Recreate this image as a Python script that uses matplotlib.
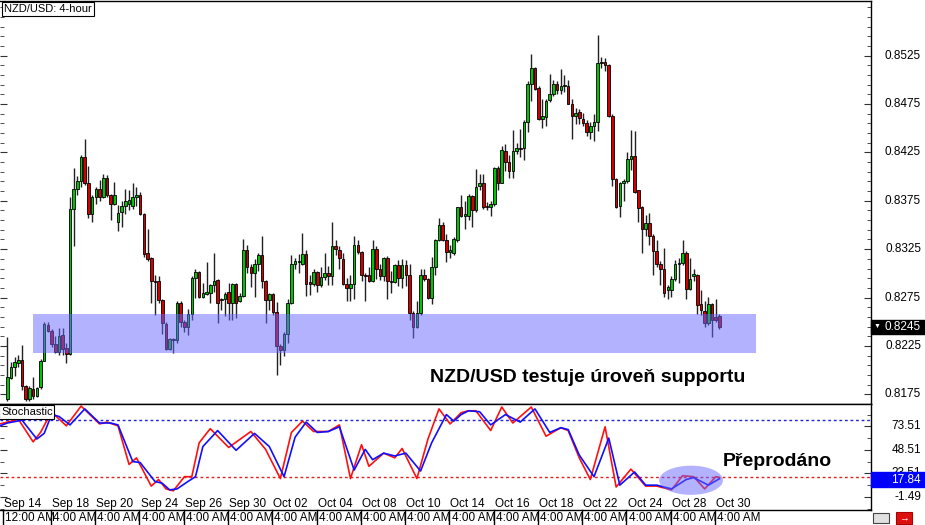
import numpy as np
import matplotlib
matplotlib.use('Agg')
import matplotlib.pyplot as plt
import matplotlib.transforms as mtrans
from matplotlib.patches import Rectangle, Ellipse
from matplotlib.lines import Line2D

plt.rcParams['font.family'] = ['Liberation Sans', 'DejaVu Sans']

# NZD/USD 4-hour candles, prices in pips (8245 -> 0.8245)
opens = [8170, 8192, 8203, 8207, 8210, 8184, 8170, 8181, 8173, 8183,
         8209, 8247, 8240, 8227, 8219, 8236, 8223, 8217, 8367, 8387,
         8395, 8420, 8393, 8361, 8379, 8387, 8379, 8399, 8381, 8372,
         8353, 8363, 8370, 8372, 8370, 8379, 8381, 8361, 8321, 8316,
         8292, 8292, 8272, 8248, 8222, 8231, 8231, 8269, 8250, 8245,
         8258, 8295, 8301, 8276, 8279, 8280, 8288, 8293, 8272, 8273,
         8281, 8269, 8289, 8271, 8277, 8324, 8307, 8300, 8310, 8319,
         8292, 8272, 8279, 8260, 8225, 8221, 8237, 8269, 8310, 8312,
         8310, 8320, 8291, 8289, 8301, 8288, 8296, 8300, 8297, 8328,
         8324, 8315, 8289, 8285, 8289, 8329, 8322, 8298, 8298, 8292,
         8325, 8304, 8297, 8316, 8292, 8291, 8309, 8295, 8309, 8298,
         8259, 8245, 8259, 8298, 8294, 8275, 8307, 8334, 8350, 8334,
         8322, 8321, 8334, 8369, 8359, 8359, 8380, 8365, 8390, 8393,
         8370, 8369, 8372, 8409, 8393, 8426, 8415, 8406, 8426, 8430,
         8430, 8456, 8496, 8512, 8492, 8460, 8462, 8479, 8485, 8496,
         8490, 8494, 8494, 8475, 8463, 8467, 8460, 8455, 8446, 8452,
         8456, 8517, 8518, 8515, 8463, 8398, 8370, 8393, 8395, 8418,
         8421, 8386, 8369, 8346, 8352, 8339, 8323, 8310, 8305, 8283,
         8283, 8294, 8310, 8311, 8321, 8284, 8297, 8298, 8268, 8261,
         8249, 8268, 8255, 8256]
highs = [8234, 8208, 8214, 8216, 8226, 8185, 8184, 8193, 8183, 8211,
         8250, 8250, 8242, 8235, 8244, 8244, 8228, 8379, 8409, 8401,
         8422, 8439, 8411, 8381, 8389, 8396, 8403, 8402, 8382, 8394,
         8371, 8375, 8387, 8386, 8393, 8389, 8384, 8362, 8346, 8317,
         8298, 8297, 8273, 8250, 8233, 8233, 8271, 8271, 8252, 8263,
         8297, 8304, 8302, 8290, 8312, 8289, 8321, 8294, 8275, 8281,
         8290, 8290, 8290, 8280, 8336, 8329, 8310, 8315, 8321, 8339,
         8293, 8280, 8280, 8270, 8227, 8239, 8273, 8319, 8316, 8320,
         8342, 8324, 8298, 8304, 8302, 8307, 8321, 8308, 8353, 8334,
         8328, 8321, 8295, 8298, 8339, 8334, 8323, 8300, 8307, 8334,
         8328, 8310, 8317, 8318, 8302, 8310, 8314, 8315, 8314, 8310,
         8261, 8271, 8304, 8304, 8295, 8317, 8335, 8357, 8353, 8341,
         8329, 8338, 8369, 8381, 8375, 8382, 8381, 8408, 8403, 8403,
         8374, 8375, 8410, 8411, 8432, 8434, 8422, 8448, 8435, 8449,
         8458, 8499, 8527, 8513, 8494, 8480, 8480, 8506, 8500, 8499,
         8511, 8505, 8500, 8480, 8471, 8470, 8466, 8458, 8456, 8465,
         8546, 8524, 8523, 8516, 8465, 8399, 8394, 8398, 8425, 8448,
         8447, 8386, 8370, 8360, 8362, 8341, 8334, 8313, 8326, 8288,
         8297, 8314, 8316, 8334, 8323, 8316, 8305, 8299, 8283, 8271,
         8276, 8269, 8274, 8258]
lows = [8168, 8191, 8194, 8203, 8179, 8168, 8168, 8170, 8172, 8181,
        8209, 8239, 8224, 8218, 8216, 8216, 8207, 8216, 8328, 8381,
        8389, 8391, 8357, 8353, 8372, 8375, 8378, 8379, 8355, 8371,
        8344, 8348, 8361, 8366, 8367, 8370, 8360, 8317, 8313, 8269,
        8257, 8269, 8237, 8221, 8221, 8218, 8228, 8245, 8239, 8236,
        8252, 8275, 8275, 8275, 8278, 8269, 8281, 8249, 8262, 8256,
        8252, 8252, 8254, 8270, 8276, 8300, 8286, 8276, 8302, 8285,
        8249, 8262, 8257, 8195, 8205, 8215, 8228, 8268, 8304, 8300,
        8309, 8277, 8278, 8287, 8281, 8286, 8293, 8288, 8288, 8319,
        8305, 8288, 8271, 8271, 8273, 8320, 8292, 8271, 8291, 8291,
        8294, 8293, 8292, 8274, 8280, 8290, 8287, 8285, 8287, 8252,
        8233, 8244, 8257, 8292, 8273, 8268, 8298, 8333, 8333, 8312,
        8316, 8319, 8332, 8358, 8346, 8355, 8348, 8363, 8386, 8367,
        8365, 8359, 8370, 8386, 8393, 8406, 8399, 8399, 8423, 8420,
        8417, 8446, 8478, 8490, 8458, 8450, 8452, 8477, 8483, 8485,
        8485, 8487, 8475, 8439, 8454, 8454, 8452, 8442, 8439, 8437,
        8447, 8512, 8509, 8462, 8390, 8368, 8358, 8375, 8393, 8407,
        8383, 8353, 8321, 8339, 8329, 8298, 8307, 8288, 8276, 8274,
        8276, 8292, 8290, 8309, 8273, 8283, 8292, 8258, 8257, 8245,
        8247, 8234, 8250, 8243]
closes = [8193, 8203, 8208, 8210, 8184, 8170, 8182, 8173, 8182, 8209,
          8248, 8240, 8227, 8219, 8235, 8222, 8217, 8367, 8387, 8395,
          8420, 8393, 8361, 8379, 8387, 8379, 8399, 8381, 8372, 8381,
          8362, 8370, 8375, 8376, 8379, 8381, 8361, 8320, 8315, 8292,
          8291, 8272, 8249, 8222, 8232, 8232, 8269, 8250, 8245, 8258,
          8295, 8301, 8276, 8280, 8281, 8288, 8292, 8269, 8274, 8279,
          8269, 8289, 8269, 8277, 8324, 8307, 8300, 8310, 8319, 8292,
          8272, 8279, 8260, 8225, 8221, 8237, 8269, 8310, 8313, 8313,
          8320, 8289, 8289, 8301, 8288, 8296, 8300, 8297, 8328, 8325,
          8316, 8289, 8285, 8289, 8329, 8322, 8298, 8297, 8292, 8325,
          8304, 8297, 8316, 8292, 8291, 8309, 8295, 8309, 8298, 8259,
          8245, 8259, 8298, 8294, 8275, 8307, 8334, 8350, 8334, 8322,
          8324, 8335, 8369, 8359, 8361, 8380, 8365, 8389, 8393, 8369,
          8369, 8372, 8409, 8393, 8427, 8415, 8406, 8426, 8430, 8429,
          8456, 8496, 8512, 8491, 8460, 8463, 8478, 8485, 8496, 8490,
          8494, 8495, 8475, 8463, 8466, 8461, 8455, 8446, 8452, 8456,
          8517, 8518, 8515, 8463, 8398, 8369, 8393, 8395, 8418, 8421,
          8384, 8368, 8346, 8352, 8339, 8323, 8310, 8305, 8280, 8286,
          8294, 8310, 8311, 8321, 8284, 8294, 8299, 8267, 8262, 8249,
          8268, 8252, 8252, 8245]

# stochastic %K (red) and %D (blue), read at turning points
k_idx = [-2, 0, 3, 7, 9, 12, 13, 16, 20, 25, 27, 30, 33, 35, 39, 41, 43, 45, 48, 50,
         52, 55, 60, 66, 70, 74, 77, 80, 83, 87, 90, 93, 96, 98, 102, 105, 107, 111, 114, 117,
         120, 123, 125, 127, 131, 134, 137, 142, 146, 150, 152, 155, 158, 162, 165, 169, 173, 176, 180, 183,
         186, 189, 192, 193]
k_val = [76, 78, 81, 57, 67, 89, 85, 74, 95, 76, 78, 74, 33, 40, 10, 17, 7, 5, 20, 20,
         56, 71, 51, 68, 49, 18, 67, 79, 68, 68, 75, 18, 54, 31, 45, 40, 50, 18, 60, 92,
         76, 88, 90, 90, 69, 94, 77, 94, 63, 72, 69, 40, 17, 73, 9, 28, 10, 10, 6, 21,
         20, 7, 20, 19]
d_idx = [-2, 0, 4, 8, 10, 12, 14, 17, 21, 25, 28, 30, 34, 36, 40, 42, 44, 46, 49, 51,
         53, 57, 62, 67, 71, 75, 78, 81, 84, 87, 90, 94, 97, 99, 102, 105, 108, 112, 115, 119,
         121, 123, 125, 128, 131, 135, 139, 143, 147, 150, 152, 155, 159, 163, 166, 170, 173, 176, 180, 184,
         186, 190, 193]
d_val = [74, 77, 80, 60, 66, 86, 84, 75, 92, 77, 77, 75, 36, 35, 15, 13, 6, 7, 15, 20,
         52, 69, 48, 66, 52, 20, 62, 78, 67, 68, 73, 27, 49, 38, 45, 42, 45, 26, 56, 86,
         79, 86, 90, 89, 75, 86, 78, 92, 67, 72, 70, 43, 20, 61, 11, 25, 11, 11, 7, 17,
         19, 11, 17.84]

price_ticks = [0.8175, 0.8225, 0.8275, 0.8325, 0.8375, 0.8425, 0.8475, 0.8525]
stoch_ticks = [-1.49, 23.51, 48.51, 73.51]
tick_idx = [-1, 12, 24, 36, 48, 60, 72, 84, 96, 108, 120, 132, 144, 156, 168, 180, 192]
date_labels = ['Sep 14', 'Sep 18', 'Sep 20', 'Sep 24', 'Sep 26', 'Sep 30', 'Oct 02', 'Oct 04',
               'Oct 08', 'Oct 10', 'Oct 14', 'Oct 16', 'Oct 18', 'Oct 22', 'Oct 24', 'Oct 28', 'Oct 30']
time_labels = ['12:00 AM'] + ['4:00 AM'] * 16
last_price = 0.8245
last_stoch = 17.84
support_lo, support_hi = 0.8218, 0.8258

W, H = 925, 525
fig = plt.figure(figsize=(W / 100, H / 100), dpi=100)
fig.patch.set_facecolor('white')


def fx(px):
    return px / W


def fy(py):
    return 1 - py / H


ax = fig.add_axes([0, fy(404), fx(871), (404 - 1) / H])
ax_st = fig.add_axes([0, fy(510), fx(871), (510 - 404) / H])

o = np.array(opens) / 10000
h = np.array(highs) / 10000
l = np.array(lows) / 10000
c = np.array(closes) / 10000
idx = np.arange(len(o))

# candles
ax.vlines(idx, l, h, color='#222222', lw=1, zorder=2)
up = c >= o
body_bottom = np.minimum(o, c)
body_h = np.maximum(np.abs(c - o), 0.00005)
ax.bar(idx, body_h, bottom=body_bottom, width=0.7,
       color=np.where(up, '#00c400', '#d00000'), edgecolor='black', linewidth=0.6, zorder=3)

# support zone
ax.add_patch(Rectangle((6.96, support_lo), 202.9 - 6.96, support_hi - support_lo,
                       facecolor='#6666ff', alpha=0.5, lw=0, zorder=4))
ax.text(0.675, 0.066, 'NZD/USD testuje úroveň supportu', transform=ax.transAxes,
        ha='center', va='center', fontsize=14, fontweight='bold', color='black', zorder=6)

xlim = (-7.3 / 3.69, (871 - 7.3) / 3.69)
ax.set_xlim(*xlim)
ax.set_ylim(0.8525 - 348 / 0.974 / 10000, 0.8525 + 55 / 0.974 / 10000)

# stochastic panel
ax_st.plot(k_idx, k_val, color='#ff1010', lw=1.2, zorder=3)
ax_st.plot(d_idx, d_val, color='#1010ff', lw=1.2, zorder=3)
ax_st.axhline(80, color='#2020e0', lw=1, ls=(0, (2, 2)), zorder=2)
ax_st.axhline(20, color='#e02020', lw=1, ls=(0, (2, 2)), zorder=2)
ax_st.add_patch(Ellipse((185.3, 16.2), 17.3, 31, facecolor='#6666ff', alpha=0.5, lw=0, zorder=4))
ax_st.text(0.892, 0.46, 'Přeprodáno', transform=ax_st.transAxes, ha='center', va='center',
           fontsize=14, fontweight='bold', color='black', zorder=6)
ax_st.set_xlim(*xlim)
ax_st.set_ylim(-15.4, 97.2)

# axes frames and ticks
for a in (ax, ax_st):
    a.set_xticks([])
    a.spines['left'].set_visible(False)
    for s in ('top', 'right', 'bottom'):
        a.spines[s].set_color('black')
        a.spines[s].set_linewidth(1)
    a.tick_params(axis='y', which='both', direction='in', left=True, right=True,
                  labelleft=False, labelright=False, color='#333333')
    a.tick_params(axis='y', which='major', length=5)
    a.tick_params(axis='y', which='minor', length=3)
ax.set_yticks(price_ticks)
ax.set_yticks(np.arange(0.8165, 0.8580, 0.001), minor=True)
ax_st.set_yticks(stoch_ticks)
ax_st.set_yticks(np.arange(-1.49 - 12.5, 97, 12.5), minor=True)

# right axis labels
tr_main = mtrans.blended_transform_factory(fig.transFigure, ax.transData)
for t in price_ticks:
    ax.text(fx(921), t, f'{t:.4f}', transform=tr_main, ha='right', va='center',
            fontsize=8.5, color='black', clip_on=False)
ax.add_patch(Rectangle((fx(871), last_price - 0.00072), fx(54), 0.00144, transform=tr_main,
                       facecolor='black', edgecolor='black', clip_on=False, zorder=5))
ax.text(fx(877), last_price, '▼', transform=tr_main, ha='center', va='center',
        fontsize=5, color='white', clip_on=False, zorder=6)
ax.text(fx(921), last_price, f'{last_price:.4f}', transform=tr_main, ha='right', va='center',
        fontsize=8.5, color='white', clip_on=False, zorder=6)

tr_st = mtrans.blended_transform_factory(fig.transFigure, ax_st.transData)
for t in stoch_ticks:
    ax_st.text(fx(921), t, f'{t:.2f}', transform=tr_st, ha='right', va='center',
               fontsize=8.5, color='black', clip_on=False)
ax_st.add_patch(Rectangle((fx(871), last_stoch - 8.5), fx(54), 16, transform=tr_st,
                          facecolor='#0000ff', edgecolor='#0000ff', clip_on=False, zorder=5))
ax_st.text(fx(921), last_stoch - 1, f'{last_stoch:.2f}', transform=tr_st, ha='right', va='center',
           fontsize=8.5, color='white', clip_on=False, zorder=6)

# date row (inside stochastic panel) and time row below
for i, lab in zip(tick_idx, date_labels):
    ax_st.text(i + 0.1, 0.06, lab, transform=ax_st.get_xaxis_transform(), ha='left', va='center',
               fontsize=8.5, color='black', zorder=6)
tr_time = mtrans.blended_transform_factory(ax_st.transData, fig.transFigure)
for i, lab in zip(tick_idx, time_labels):
    fig.add_artist(Line2D([i - 0.2, i - 0.2], [fy(510), fy(525)], transform=tr_time,
                          color='black', lw=1))
    fig.text(i + 0.4, fy(518), lab, transform=tr_time,
             ha='left', va='center', fontsize=8.5, color='black')

# titles
fig.text(fx(4), fy(9), 'NZD/USD: 4-hour', ha='left', va='center', fontsize=8,
         bbox=dict(boxstyle='square,pad=0.2', facecolor='white', edgecolor='black', lw=0.8))
fig.text(fx(1), fy(412), 'Stochastic', ha='left', va='center', fontsize=8,
         bbox=dict(boxstyle='square,pad=0.15', facecolor='white', edgecolor='black', lw=0.8))

# small toolbar icons at bottom right
fig.add_artist(Rectangle((fx(873), fy(523)), fx(16), 10 / H, transform=fig.transFigure,
                         facecolor='#e0e0e0', edgecolor='#444444', lw=0.8))
fig.add_artist(Rectangle((fx(896), fy(524)), fx(16), 12 / H, transform=fig.transFigure,
                         facecolor='#dd1010', edgecolor='#aa0000', lw=0.8))
fig.text(fx(904), fy(518), '→', ha='center', va='center', fontsize=7, color='white',
         fontweight='bold')

fig.savefig('out.png', dpi=100, facecolor='white')
